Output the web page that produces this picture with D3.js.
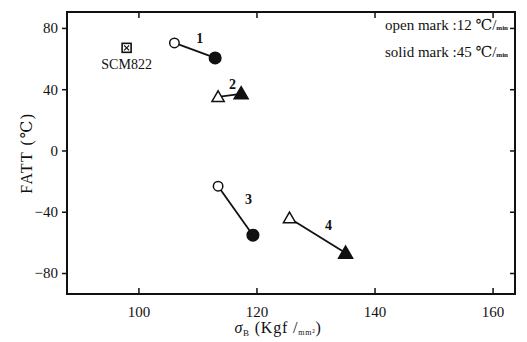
<!DOCTYPE html>
<html>
<head>
<meta charset="utf-8">
<script src="https://cdn.jsdelivr.net/npm/d3@7"></script>
<style>
  body { margin: 0; background: #fff; }
  text { font-family: "Liberation Serif", "DejaVu Serif", serif; fill: #111; }
</style>
</head>
<body>
<svg id="chart" width="527" height="342"></svg>
<script>
// series: each pair is [open (12 ℃/min), solid (45 ℃/min)]
const seriesNames = ['1', '2', '3', '4']
const seriesShapes = ['circle', 'triangle', 'circle', 'triangle']
const openSigma = [106.1, 113.5, 113.5, 125.6]
const openFatt = [70.2, 35, -23.3, -44.2]
const solidSigma = [113, 117.4, 119.4, 135.1]
const solidFatt = [60.4, 37, -55.3, -67]
const refName = 'SCM822'
const refPoint = [98, 67]
const xTicks = [100, 120, 140, 160]
const yTicks = [80, 40, 0, -40, -80]

const svg = d3.select('#chart')
const margin = {left: 67, top: 12, right: 12, bottom: 48}
const W = 527, H = 342
const x = d3.scaleLinear().domain([87.9, 163.8]).range([margin.left, W - margin.right])
const y = d3.scaleLinear().domain([-93.7, 90.4]).range([H - margin.bottom, margin.top])

const g = svg.append('g')

// frame
g.append('rect')
  .attr('x', x.range()[0]).attr('y', y.range()[1])
  .attr('width', x.range()[1] - x.range()[0])
  .attr('height', y.range()[0] - y.range()[1])
  .attr('fill', 'none').attr('stroke', '#111').attr('stroke-width', 2)

// axes
const xAxis = g.append('g').attr('transform', `translate(0,${y.range()[0]})`)
  .call(d3.axisBottom(x).tickValues(xTicks).tickSize(-6).tickPadding(12))
const xTop = g.append('g').attr('transform', `translate(0,${y.range()[1]})`)
  .call(d3.axisTop(x).tickValues(xTicks).tickSize(-6).tickFormat(''))
const yAxis = g.append('g').attr('transform', `translate(${x.range()[0]},0)`)
  .call(d3.axisLeft(y).tickValues(yTicks).tickSize(5).tickPadding(4))
const yRight = g.append('g').attr('transform', `translate(${x.range()[1]},0)`)
  .call(d3.axisRight(y).tickValues(yTicks).tickSize(-5).tickFormat(''))

;[xAxis, xTop, yAxis, yRight].forEach(a => {
  a.select('.domain').remove()
  a.selectAll('line').attr('stroke', '#111').attr('stroke-width', 1.5)
  a.selectAll('text').attr('font-family', '"Liberation Serif", serif').attr('font-size', 15).attr('fill', '#111')
})

// connectors
const pairs = seriesNames.map((n, i) => ({
  name: n, shape: seriesShapes[i],
  open: [openSigma[i], openFatt[i]],
  solid: [solidSigma[i], solidFatt[i]],
}))

g.selectAll('line.conn').data(pairs).join('line')
  .attr('class', 'conn')
  .attr('x1', d => x(d.open[0])).attr('y1', d => y(d.open[1]))
  .attr('x2', d => x(d.solid[0])).attr('y2', d => y(d.solid[1]))
  .attr('stroke', '#111').attr('stroke-width', 1.8)

const circleSym = d3.symbol().type(d3.symbolCircle)
const triSym = d3.symbol().type(d3.symbolTriangle)

function drawMark(d, pt, filled) {
  const gen = d.shape === 'circle' ? circleSym.size(filled ? 105 : 70) : triSym.size(filled ? 85 : 65)
  g.append('path')
    .attr('d', gen())
    .attr('transform', `translate(${x(pt[0])},${y(pt[1]) + (d.shape === 'triangle' ? 1 : 0)})`)
    .attr('fill', filled ? '#111' : '#fff')
    .attr('stroke', '#111').attr('stroke-width', 1.5)
}
pairs.forEach(d => {
  drawMark(d, d.open, false)
  drawMark(d, d.solid, true)
})

// series labels
const labelOffsets = [[5, -7], [3, -6], [5, -7], [3, -6]]
g.selectAll('text.lab').data(pairs).join('text')
  .attr('class', 'lab')
  .attr('x', (d, i) => (x(d.open[0]) + x(d.solid[0])) / 2 + labelOffsets[i][0] + (i >= 2 ? 8 : 0))
  .attr('y', (d, i) => (y(d.open[1]) + y(d.solid[1])) / 2 + labelOffsets[i][1])
  .attr('text-anchor', 'middle').attr('font-size', 14).attr('font-weight', 'bold')
  .text(d => d.name)

// reference point (boxed x)
const rx = x(refPoint[0]), ry = y(refPoint[1])
g.append('rect').attr('x', rx - 4.5).attr('y', ry - 4.5).attr('width', 9).attr('height', 9)
  .attr('fill', '#fff').attr('stroke', '#111').attr('stroke-width', 1.6)
g.append('path').attr('d', `M${rx - 2.5},${ry - 2.5}L${rx + 2.5},${ry + 2.5}M${rx + 2.5},${ry - 2.5}L${rx - 2.5},${ry + 2.5}`)
  .attr('stroke', '#111').attr('stroke-width', 1.2)
g.append('text').attr('x', rx).attr('y', ry + 21).attr('text-anchor', 'middle')
  .attr('font-family', '"Liberation Sans", Arial, sans-serif').attr('font-size', 14)
  .text(refName)

// legend
const legend = [['open mark :12 ℃/', 30], ['solid mark :45 ℃/', 57]]
legend.forEach(([t, ly]) => {
  const tx = g.append('text').attr('x', 508).attr('y', ly).attr('text-anchor', 'end').attr('font-size', 15)
  tx.append('tspan').text(t)
  tx.append('tspan').attr('font-size', 7).attr('font-weight', 'bold').text('min')
})

// axis titles
svg.append('text')
  .attr('transform', `translate(32,${(y.range()[0] + y.range()[1]) / 2}) rotate(-90)`)
  .attr('text-anchor', 'middle').attr('font-size', 16).attr('letter-spacing', 1.5)
  .text('FATT (℃)')

const xt = svg.append('text').attr('x', (x.range()[0] + x.range()[1]) / 2 - 13).attr('y', 333)
  .attr('text-anchor', 'middle').attr('font-size', 16).attr('letter-spacing', 0.8)
xt.append('tspan').attr('font-style', 'italic').text('σ')
xt.append('tspan').attr('font-size', 9).attr('dy', 3).text('B')
xt.append('tspan').attr('dy', -3).text('  (Kgf /')
xt.append('tspan').attr('font-size', 8).attr('dy', 2).text('mm²')
xt.append('tspan').attr('dy', -2).text(')')
</script>
</body>
</html>
